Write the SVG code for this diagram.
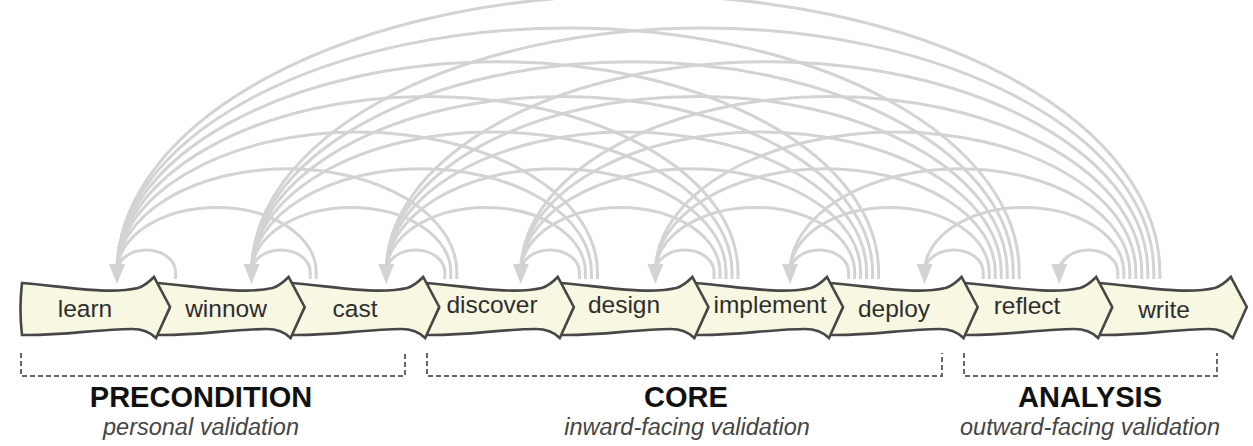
<svg xmlns="http://www.w3.org/2000/svg" xmlns:xlink="http://www.w3.org/1999/xlink" width="1253" height="446" viewBox="0 0 1253 446">
<style>
.arc{fill:none;stroke:#d3d3d3;stroke-width:3}
.ah{fill:#d3d3d3}
.stage{fill:#f8f7e1;stroke:#474747;stroke-width:2.6;stroke-linejoin:miter}
.lbl{font-family:"Liberation Sans",Arial,sans-serif;font-size:24.5px;fill:#2e2e2e;text-anchor:middle}
.br{fill:none;stroke:#666;stroke-width:2;stroke-dasharray:5 3}
.hd{font-family:"Liberation Sans",Arial,sans-serif;font-size:29px;font-weight:bold;fill:#111;text-anchor:middle}
.sub{font-family:"Liberation Sans",Arial,sans-serif;font-size:23.5px;font-style:italic;fill:#444;text-anchor:middle}
</style>
<defs>
<path id="arrowFirst" d="M0,283 C40,286 85,295 116,288 C123,286 128,281 132,277 L148,307 L134,338 C128,332 121,329 110,329 C75,329 40,336 0,335 C-2,318 -2,300 0,283 Z"/>
<path id="arrow" d="M0,283 C40,286 85,295 116,288 C123,286 128,281 132,277 L148,307 L134,338 C128,332 121,329 110,329 C75,329 40,336 0,335 L13,308 Z"/>
<polygon id="head" points="-8,264 8,264 0,284"/>
</defs>
<g id="connectors">
<path class="arc" d="M175.6,279 V272 A29.3 22 0 0 0 117,272 V268"/>
<path class="arc" d="M310.2,279 V272 A29.3 22 0 0 0 251.6,272 V268"/>
<path class="arc" d="M316.2,279 V272 A99.6 64.6 0 0 0 117,272 V268"/>
<path class="arc" d="M444.8,279 V272 A29.3 22 0 0 0 386.2,272 V268"/>
<path class="arc" d="M450.8,279 V272 A99.6 64.6 0 0 0 251.6,272 V268"/>
<path class="arc" d="M456.8,279 V272 A169.9 103.3 0 0 0 117,272 V268"/>
<path class="arc" d="M579.4,279 V272 A29.3 22 0 0 0 520.8,272 V268"/>
<path class="arc" d="M585.4,279 V272 A99.6 64.6 0 0 0 386.2,272 V268"/>
<path class="arc" d="M591.4,279 V272 A169.9 103.3 0 0 0 251.6,272 V268"/>
<path class="arc" d="M597.4,279 V272 A240.2 140.1 0 0 0 117,272 V268"/>
<path class="arc" d="M714,279 V272 A29.3 22 0 0 0 655.4,272 V268"/>
<path class="arc" d="M720,279 V272 A99.6 64.6 0 0 0 520.8,272 V268"/>
<path class="arc" d="M726,279 V272 A169.9 103.3 0 0 0 386.2,272 V268"/>
<path class="arc" d="M732,279 V272 A240.2 140.1 0 0 0 251.6,272 V268"/>
<path class="arc" d="M738,279 V272 A310.5 175.6 0 0 0 117,272 V268"/>
<path class="arc" d="M848.6,279 V272 A29.3 22 0 0 0 790,272 V268"/>
<path class="arc" d="M854.6,279 V272 A99.6 64.6 0 0 0 655.4,272 V268"/>
<path class="arc" d="M860.6,279 V272 A169.9 103.3 0 0 0 520.8,272 V268"/>
<path class="arc" d="M866.6,279 V272 A240.2 140.1 0 0 0 386.2,272 V268"/>
<path class="arc" d="M872.6,279 V272 A310.5 175.6 0 0 0 251.6,272 V268"/>
<path class="arc" d="M878.6,279 V272 A380.8 210.2 0 0 0 117,272 V268"/>
<path class="arc" d="M983.2,279 V272 A29.3 22 0 0 0 924.6,272 V268"/>
<path class="arc" d="M989.2,279 V272 A99.6 64.6 0 0 0 790,272 V268"/>
<path class="arc" d="M995.2,279 V272 A169.9 103.3 0 0 0 655.4,272 V268"/>
<path class="arc" d="M1001.2,279 V272 A240.2 140.1 0 0 0 520.8,272 V268"/>
<path class="arc" d="M1007.2,279 V272 A310.5 175.6 0 0 0 386.2,272 V268"/>
<path class="arc" d="M1013.2,279 V272 A380.8 210.2 0 0 0 251.6,272 V268"/>
<path class="arc" d="M1019.2,279 V272 A451.1 244 0 0 0 117,272 V268"/>
<path class="arc" d="M1117.8,279 V272 A29.3 22 0 0 0 1059.2,272 V268"/>
<path class="arc" d="M1123.8,279 V272 A99.6 64.6 0 0 0 924.6,272 V268"/>
<path class="arc" d="M1129.8,279 V272 A169.9 103.3 0 0 0 790,272 V268"/>
<path class="arc" d="M1135.8,279 V272 A240.2 140.1 0 0 0 655.4,272 V268"/>
<path class="arc" d="M1141.8,279 V272 A310.5 175.6 0 0 0 520.8,272 V268"/>
<path class="arc" d="M1147.8,279 V272 A380.8 210.2 0 0 0 386.2,272 V268"/>
<path class="arc" d="M1153.8,279 V272 A451.1 244 0 0 0 251.6,272 V268"/>
<path class="arc" d="M1159.8,279 V272 A521.4 277 0 0 0 117,272 V268"/>
<use href="#head" class="ah" x="117"/>
<use href="#head" class="ah" x="251.6"/>
<use href="#head" class="ah" x="386.2"/>
<use href="#head" class="ah" x="520.8"/>
<use href="#head" class="ah" x="655.4"/>
<use href="#head" class="ah" x="790"/>
<use href="#head" class="ah" x="924.6"/>
<use href="#head" class="ah" x="1059.2"/>
</g>
<g id="write"><use href="#arrow" class="stage" x="1098.8"/><text class="lbl" x="1164" y="318">write</text></g>
<g id="reflect"><use href="#arrow" class="stage" x="964.2"/><text class="lbl" x="1027" y="314">reflect</text></g>
<g id="deploy"><use href="#arrow" class="stage" x="829.6"/><text class="lbl" x="894" y="317">deploy</text></g>
<g id="implement"><use href="#arrow" class="stage" x="695"/><text class="lbl" x="770" y="313">implement</text></g>
<g id="design"><use href="#arrow" class="stage" x="560.4"/><text class="lbl" x="624" y="313">design</text></g>
<g id="discover"><use href="#arrow" class="stage" x="425.8"/><text class="lbl" x="492" y="313">discover</text></g>
<g id="cast"><use href="#arrow" class="stage" x="291.2"/><text class="lbl" x="355" y="317">cast</text></g>
<g id="winnow"><use href="#arrow" class="stage" x="156.6"/><text class="lbl" x="226" y="317">winnow</text></g>
<g id="learn"><use href="#arrowFirst" class="stage" x="22"/><text class="lbl" x="85" y="317">learn</text></g>
<g id="precondition">
<path class="br" d="M21,353 V376 H405 V353"/>
<text class="hd" x="201" y="407">PRECONDITION</text>
<text class="sub" x="201" y="435">personal validation</text>
</g>
<g id="core">
<path class="br" d="M427,353 V376 H942 V353"/>
<text class="hd" x="686" y="407">CORE</text>
<text class="sub" x="687" y="435">inward-facing validation</text>
</g>
<g id="analysis">
<path class="br" d="M964,353 V376 H1217 V353"/>
<text class="hd" x="1090" y="407">ANALYSIS</text>
<text class="sub" x="1090" y="435">outward-facing validation</text>
</g>
</svg>
